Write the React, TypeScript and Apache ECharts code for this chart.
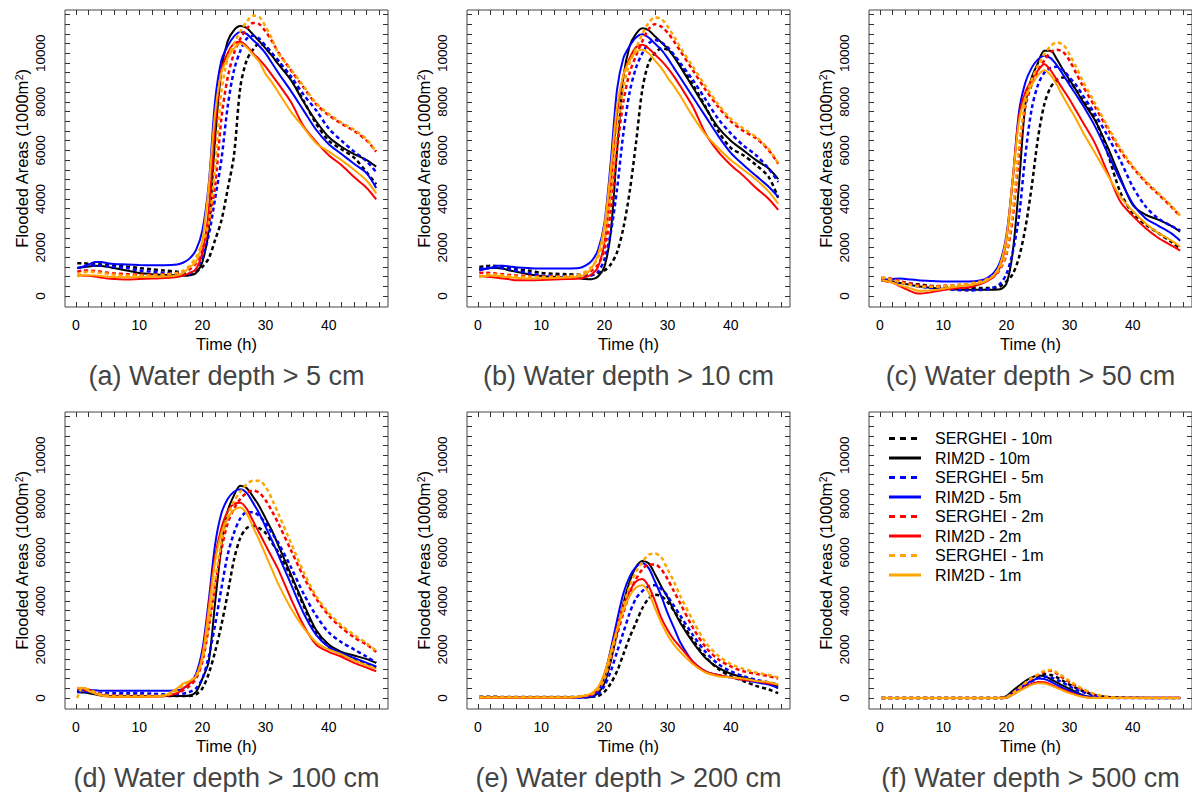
import React, { useEffect, useRef } from "react";
import * as echarts from "echarts";

// ---- time axis (hours) ----
const T = [0.2, 1, 2, 3, 4, 5, 6, 8, 10, 12, 14, 16, 17, 18, 19, 20, 21, 22, 23, 24, 25, 26, 27, 28, 29, 30, 31, 32, 34, 36, 38, 40, 42, 44, 46, 47.5];

const SERIES_NAMES = ["SERGHEI - 10m", "RIM2D - 10m", "SERGHEI - 5m", "RIM2D - 5m", "SERGHEI - 2m", "RIM2D - 2m", "SERGHEI - 1m", "RIM2D - 1m"];
const SERIES_COLORS = ["#000000", "#000000", "#0000FF", "#0000FF", "#FF0000", "#FF0000", "#FFA500", "#FFA500"];
const SERIES_DASHED = [true, false, true, false, true, false, true, false];

const PANEL_TITLES = ["(a) Water depth > 5 cm", "(b) Water depth > 10 cm", "(c) Water depth > 50 cm", "(d) Water depth > 100 cm", "(e) Water depth > 200 cm", "(f) Water depth > 500 cm"];
const X_NAME = "Time (h)";
const Y_NAME = "Flooded Areas (1000m{sup|2})";

const X_TICKS = [0, 2, 4, 6, 8, 10, 12, 14, 16, 18, 20, 22, 24, 26, 28, 30, 32, 34, 36, 38, 40, 42, 44, 46, 48];
const X_LABELS = [0, 10, 20, 30, 40];
const Y_TICKS = [0, 400, 800, 1200, 1600, 2000, 2400, 2800, 3200, 3600, 4000, 4400, 4800, 5200, 5600, 6000, 6400, 6800, 7200, 7600, 8000, 8400, 8800, 9200, 9600, 10000, 10400, 10800, 11200, 11600];
const Y_LABELS = [0, 2000, 4000, 6000, 8000, 10000];

// ---- (a) > 5 cm ----
const a_SERGHEI_10m = [1350, 1350, 1330, 1320, 1300, 1280, 1260, 1220, 1150, 1100, 1050, 1000, 960, 950, 1000, 1200, 1550, 2300, 3100, 4400, 5800, 8600, 9700, 10150, 10400, 10300, 10000, 9700, 8950, 8050, 7100, 6400, 6050, 5700, 5100, 4600];
const a_RIM2D_10m = [1150, 1180, 1220, 1250, 1240, 1200, 1150, 1050, 950, 900, 870, 850, 830, 850, 950, 1400, 2700, 6400, 9300, 10500, 10950, 11120, 11050, 10780, 10500, 10200, 9900, 9550, 8900, 8000, 7200, 6550, 6150, 5850, 5600, 5330];
const a_SERGHEI_5m = [1150, 1200, 1250, 1260, 1250, 1230, 1200, 1150, 1050, 1000, 950, 900, 880, 900, 1100, 1600, 2500, 4000, 5600, 7800, 9300, 10100, 10600, 10720, 10600, 10300, 10000, 9700, 9050, 8300, 7650, 6900, 6400, 5950, 5550, 5100];
const a_RIM2D_5m = [1150, 1200, 1300, 1400, 1400, 1350, 1320, 1300, 1280, 1270, 1270, 1300, 1380, 1550, 1900, 2700, 4600, 8000, 9700, 10300, 10700, 10880, 10800, 10550, 10300, 10000, 9600, 9200, 8450, 7650, 6850, 6250, 5850, 5450, 5050, 4450];
const a_SERGHEI_2m = [1000, 1050, 1050, 1030, 1000, 960, 930, 900, 880, 880, 900, 950, 1000, 1100, 1350, 1900, 3000, 4500, 7300, 9000, 10000, 10600, 11000, 11250, 11200, 10900, 10500, 10050, 9300, 8600, 7900, 7450, 7100, 6800, 6400, 5950];
const a_RIM2D_2m = [850, 840, 830, 800, 760, 720, 700, 680, 700, 720, 740, 780, 850, 950, 1100, 1800, 3500, 7000, 9300, 10000, 10400, 10480, 10300, 10000, 9750, 9450, 9100, 8750, 8000, 7000, 6350, 5800, 5400, 4900, 4450, 3980];
const a_SERGHEI_1m = [850, 950, 1000, 980, 950, 920, 880, 850, 850, 850, 880, 950, 1050, 1250, 1600, 2200, 3000, 5300, 8400, 9800, 10400, 10900, 11300, 11550, 11500, 11100, 10600, 10000, 9350, 8650, 7950, 7500, 7150, 6850, 6450, 5950];
const a_RIM2D_1m = [800, 850, 860, 850, 820, 800, 780, 770, 780, 790, 800, 850, 950, 1200, 1400, 2300, 4500, 7500, 9200, 9800, 10200, 10400, 10250, 9950, 9650, 9150, 8800, 8400, 7600, 6950, 6300, 5950, 5600, 5200, 4750, 4230];

// ---- (b) > 10 cm ----
const b_SERGHEI_10m = [1200, 1220, 1250, 1230, 1200, 1150, 1100, 1050, 950, 920, 900, 880, 870, 870, 950, 1050, 1300, 1800, 2800, 4300, 6300, 8500, 9600, 10000, 10200, 10150, 9900, 9500, 8700, 7800, 6800, 6100, 5800, 5400, 4900, 4050];
const b_RIM2D_10m = [1100, 1120, 1150, 1150, 1120, 1050, 1000, 900, 820, 790, 760, 730, 700, 690, 800, 1200, 2600, 6000, 9000, 10300, 10800, 11030, 10950, 10700, 10450, 10200, 9850, 9450, 8600, 7750, 6950, 6400, 6000, 5600, 5250, 4820];
const b_SERGHEI_5m = [1100, 1150, 1180, 1170, 1150, 1100, 1050, 950, 850, 830, 800, 780, 800, 850, 1000, 1500, 2600, 4400, 6700, 8400, 9400, 10000, 10400, 10550, 10450, 10250, 9950, 9600, 8900, 8100, 7300, 6700, 6200, 5800, 5250, 4700];
const b_RIM2D_5m = [1050, 1100, 1150, 1250, 1250, 1220, 1180, 1150, 1130, 1130, 1130, 1150, 1250, 1450, 1900, 3000, 5500, 8500, 9800, 10300, 10650, 10780, 10650, 10400, 10150, 9800, 9400, 9000, 8200, 7400, 6600, 5900, 5400, 4950, 4500, 4080];
const b_SERGHEI_2m = [950, 960, 950, 920, 900, 870, 850, 820, 800, 800, 800, 850, 900, 1050, 1300, 1900, 3500, 6000, 8000, 9200, 9900, 10500, 11000, 11200, 11100, 10850, 10500, 10100, 9300, 8500, 7800, 7200, 6800, 6500, 6000, 5450];
const b_RIM2D_2m = [820, 800, 780, 750, 720, 690, 650, 650, 660, 680, 700, 720, 780, 900, 1200, 2200, 4500, 7500, 9100, 9800, 10250, 10350, 10200, 9950, 9700, 9400, 9050, 8650, 7800, 6700, 5950, 5400, 4950, 4450, 4000, 3550];
const b_SERGHEI_1m = [800, 850, 900, 880, 850, 820, 800, 780, 780, 790, 800, 880, 1000, 1200, 1600, 2400, 4200, 6800, 8600, 9600, 10200, 10800, 11250, 11480, 11420, 11100, 10700, 10250, 9450, 8650, 7900, 7300, 6900, 6550, 6050, 5470];
const b_RIM2D_1m = [780, 820, 850, 830, 800, 770, 750, 720, 730, 740, 760, 800, 900, 1150, 1700, 2900, 5200, 7800, 9100, 9700, 10050, 10150, 10000, 9700, 9400, 9000, 8650, 8250, 7400, 6650, 6100, 5600, 5200, 4800, 4300, 3800];

// ---- (c) > 50 cm ----
const c_SERGHEI_10m = [700, 690, 650, 600, 550, 510, 480, 420, 380, 350, 330, 330, 330, 330, 400, 600, 900, 1600, 2800, 4500, 6500, 7900, 8600, 8900, 9000, 8850, 8500, 8100, 7300, 5900, 4300, 3400, 2950, 2600, 2250, 1950];
const c_RIM2D_10m = [650, 640, 600, 550, 500, 450, 400, 340, 300, 270, 260, 255, 255, 260, 280, 500, 1800, 4600, 7900, 9000, 9600, 10100, 10100, 9750, 9300, 8900, 8500, 8050, 7250, 6150, 4900, 3750, 3350, 3150, 2900, 2650];
const c_SERGHEI_5m = [650, 640, 600, 550, 500, 450, 400, 330, 300, 250, 230, 250, 280, 350, 500, 900, 1800, 3300, 5800, 7700, 8700, 9200, 9400, 9450, 9300, 9000, 8700, 8300, 7500, 6600, 5600, 4500, 3700, 3200, 2900, 2700];
const c_RIM2D_5m = [650, 680, 700, 720, 700, 680, 650, 620, 600, 600, 600, 650, 750, 950, 1400, 2500, 4800, 7600, 8800, 9400, 9750, 9900, 9800, 9500, 9100, 8700, 8300, 7900, 7000, 5900, 4800, 3800, 3200, 2900, 2600, 2280];
const c_SERGHEI_2m = [750, 740, 700, 620, 550, 500, 450, 400, 420, 450, 500, 600, 700, 800, 1100, 1700, 3200, 5800, 7800, 8700, 9300, 9700, 10050, 10150, 10050, 9700, 9200, 8700, 7800, 6900, 6000, 5300, 4700, 4200, 3700, 3280];
const c_RIM2D_2m = [650, 600, 550, 420, 300, 180, 100, 150, 250, 320, 350, 500, 620, 800, 1200, 2300, 4800, 7400, 8400, 8900, 9300, 9550, 9300, 8900, 8500, 8100, 7650, 7200, 6300, 5100, 3900, 3300, 2800, 2400, 2100, 1870];
const c_SERGHEI_1m = [750, 730, 650, 580, 500, 450, 400, 380, 400, 450, 500, 600, 700, 850, 1150, 1800, 3500, 6200, 8000, 8900, 9500, 9950, 10300, 10450, 10350, 9950, 9450, 8900, 7950, 7000, 6100, 5350, 4750, 4250, 3750, 3300];
const c_RIM2D_1m = [650, 620, 550, 450, 380, 300, 220, 230, 300, 380, 450, 550, 650, 850, 1300, 2400, 4800, 7200, 8200, 8700, 9100, 9300, 9100, 8700, 8200, 7750, 7300, 6800, 5900, 5000, 4100, 3500, 3000, 2600, 2300, 2030];

// ---- (d) > 100 cm ----
const d_SERGHEI_10m = [300, 280, 250, 200, 150, 120, 100, 100, 100, 90, 80, 80, 80, 80, 150, 400, 1000, 1900, 3000, 4300, 5700, 6600, 7000, 7100, 7000, 6800, 6400, 6000, 5000, 3800, 2700, 2100, 1800, 1600, 1400, 1250];
const d_RIM2D_10m = [250, 230, 200, 150, 100, 90, 80, 80, 80, 80, 80, 80, 80, 100, 250, 800, 1500, 3900, 6200, 7700, 8350, 8750, 8650, 8300, 7900, 7400, 6900, 6300, 5100, 3900, 2800, 2200, 1900, 1750, 1600, 1450];
const d_SERGHEI_5m = [250, 250, 250, 220, 200, 200, 200, 200, 200, 180, 150, 150, 180, 250, 400, 800, 1700, 3000, 4500, 5900, 6800, 7400, 7650, 7650, 7500, 7200, 6800, 6400, 5400, 4300, 3400, 2700, 2300, 2000, 1700, 1450];
const d_RIM2D_5m = [300, 320, 330, 320, 300, 300, 300, 300, 300, 300, 300, 320, 400, 600, 1000, 2000, 4000, 6300, 7600, 8200, 8500, 8600, 8450, 8050, 7600, 7050, 6500, 5900, 4700, 3500, 2600, 2100, 1850, 1650, 1450, 1300];
const d_SERGHEI_2m = [400, 350, 300, 220, 150, 120, 100, 80, 80, 80, 100, 200, 320, 500, 800, 1500, 2900, 4600, 6100, 7200, 7800, 8200, 8450, 8550, 8450, 8150, 7700, 7200, 6100, 5000, 4100, 3400, 2900, 2500, 2200, 1900];
const d_RIM2D_2m = [350, 400, 350, 200, 100, 70, 50, 50, 50, 60, 80, 200, 400, 600, 900, 1800, 3800, 5800, 7000, 7700, 8000, 8050, 7800, 7300, 6800, 6300, 5800, 5300, 4100, 3000, 2200, 1900, 1700, 1450, 1250, 1100];
const d_SERGHEI_1m = [0, 400, 350, 250, 150, 100, 80, 80, 80, 80, 100, 300, 550, 700, 900, 1600, 3000, 4800, 6400, 7500, 8100, 8500, 8800, 8950, 8950, 8700, 8200, 7600, 6400, 5200, 4200, 3500, 3000, 2600, 2250, 1950];
const d_RIM2D_1m = [400, 420, 300, 180, 100, 60, 50, 50, 50, 60, 100, 400, 600, 700, 900, 1700, 3600, 5600, 6800, 7400, 7750, 7850, 7600, 7050, 6500, 5900, 5300, 4700, 3700, 2900, 2300, 2000, 1800, 1550, 1350, 1200];

// ---- (e) > 200 cm ----
const e_SERGHEI_10m = [50, 50, 50, 50, 40, 40, 40, 40, 40, 40, 40, 40, 40, 50, 80, 250, 600, 1100, 1800, 2500, 3100, 3700, 4100, 4250, 4200, 3950, 3600, 3200, 2400, 1700, 1200, 900, 700, 500, 350, 200];
const e_RIM2D_10m = [30, 30, 30, 30, 30, 30, 30, 30, 30, 30, 30, 30, 30, 50, 200, 600, 1500, 2700, 3900, 4800, 5400, 5650, 5550, 5100, 4600, 4150, 3600, 3100, 2300, 1650, 1250, 1000, 850, 700, 600, 480];
const e_SERGHEI_5m = [20, 20, 20, 20, 20, 20, 20, 20, 20, 20, 20, 20, 30, 60, 150, 500, 1100, 1900, 2700, 3500, 4100, 4400, 4600, 4650, 4500, 4200, 3800, 3400, 2600, 1900, 1400, 1100, 900, 750, 650, 550];
const e_RIM2D_5m = [20, 20, 20, 20, 20, 20, 20, 20, 20, 20, 20, 20, 30, 100, 300, 900, 2000, 3200, 4300, 5000, 5400, 5550, 5350, 4800, 4200, 3500, 2900, 2300, 1500, 1100, 950, 850, 750, 650, 550, 400];
const e_SERGHEI_2m = [30, 30, 30, 30, 30, 30, 30, 30, 30, 30, 30, 60, 100, 150, 350, 800, 1600, 2600, 3500, 4300, 4900, 5300, 5500, 5500, 5300, 4900, 4400, 3900, 2900, 2100, 1600, 1300, 1100, 1000, 900, 800];
const e_RIM2D_2m = [20, 20, 20, 20, 20, 20, 20, 20, 20, 20, 20, 40, 80, 150, 400, 1000, 1900, 2900, 3800, 4400, 4800, 4900, 4600, 4000, 3300, 2800, 2400, 2100, 1500, 1100, 950, 850, 750, 700, 600, 550];
const e_SERGHEI_1m = [30, 30, 30, 30, 30, 30, 30, 30, 30, 30, 30, 60, 100, 150, 350, 800, 1700, 2800, 3800, 4600, 5200, 5600, 5900, 5950, 5800, 5300, 4800, 4200, 3200, 2300, 1750, 1400, 1200, 1050, 950, 850];
const e_RIM2D_1m = [20, 20, 20, 20, 20, 20, 20, 20, 20, 20, 20, 60, 100, 200, 450, 1000, 1900, 2800, 3600, 4200, 4550, 4650, 4350, 3700, 3100, 2600, 2200, 1900, 1400, 1050, 900, 850, 800, 700, 650, 550];

// ---- (f) > 500 cm ----
const f_SERGHEI_10m = [0, 0, 0, 0, 0, 0, 0, 0, 0, 0, 0, 0, 0, 0, 0, 20, 150, 350, 550, 750, 900, 980, 950, 850, 700, 550, 420, 300, 120, 40, 20, 10, 5, 5, 5, 5];
const f_RIM2D_10m = [0, 0, 0, 0, 0, 0, 0, 0, 0, 0, 0, 0, 0, 0, 10, 80, 300, 500, 700, 850, 930, 900, 780, 640, 500, 370, 250, 130, 10, 0, 0, 0, 0, 0, 0, 0];
const f_SERGHEI_5m = [0, 0, 0, 0, 0, 0, 0, 0, 0, 0, 0, 0, 0, 0, 0, 20, 150, 330, 500, 680, 820, 880, 850, 750, 620, 480, 350, 250, 90, 15, 0, 0, 0, 0, 0, 0];
const f_RIM2D_5m = [0, 0, 0, 0, 0, 0, 0, 0, 0, 0, 0, 0, 0, 0, 0, 30, 200, 380, 550, 700, 800, 780, 680, 540, 410, 300, 200, 100, 10, 0, 0, 0, 0, 0, 0, 0];
const f_SERGHEI_2m = [0, 0, 0, 0, 0, 0, 0, 0, 0, 0, 0, 0, 0, 0, 0, 30, 180, 380, 600, 800, 950, 1080, 1120, 1000, 820, 650, 500, 360, 140, 40, 15, 10, 10, 10, 10, 10];
const f_RIM2D_2m = [0, 0, 0, 0, 0, 0, 0, 0, 0, 0, 0, 0, 0, 0, 0, 20, 150, 300, 450, 580, 660, 650, 560, 440, 330, 230, 140, 60, 0, 0, 0, 0, 0, 0, 0, 0];
const f_SERGHEI_1m = [0, 0, 0, 0, 0, 0, 0, 0, 0, 0, 0, 0, 0, 0, 0, 30, 200, 400, 620, 820, 980, 1120, 1150, 1050, 880, 700, 540, 390, 160, 50, 10, 5, 5, 5, 5, 5];
const f_RIM2D_1m = [0, 0, 0, 0, 0, 0, 0, 0, 0, 0, 0, 0, 0, 0, 0, 20, 130, 280, 420, 540, 610, 600, 520, 410, 300, 200, 120, 50, 0, 0, 0, 0, 0, 0, 0, 0];

const PANELS = [
  [a_SERGHEI_10m, a_RIM2D_10m, a_SERGHEI_5m, a_RIM2D_5m, a_SERGHEI_2m, a_RIM2D_2m, a_SERGHEI_1m, a_RIM2D_1m],
  [b_SERGHEI_10m, b_RIM2D_10m, b_SERGHEI_5m, b_RIM2D_5m, b_SERGHEI_2m, b_RIM2D_2m, b_SERGHEI_1m, b_RIM2D_1m],
  [c_SERGHEI_10m, c_RIM2D_10m, c_SERGHEI_5m, c_RIM2D_5m, c_SERGHEI_2m, c_RIM2D_2m, c_SERGHEI_1m, c_RIM2D_1m],
  [d_SERGHEI_10m, d_RIM2D_10m, d_SERGHEI_5m, d_RIM2D_5m, d_SERGHEI_2m, d_RIM2D_2m, d_SERGHEI_1m, d_RIM2D_1m],
  [e_SERGHEI_10m, e_RIM2D_10m, e_SERGHEI_5m, e_RIM2D_5m, e_SERGHEI_2m, e_RIM2D_2m, e_SERGHEI_1m, e_RIM2D_1m],
  [f_SERGHEI_10m, f_RIM2D_10m, f_SERGHEI_5m, f_RIM2D_5m, f_SERGHEI_2m, f_RIM2D_2m, f_SERGHEI_1m, f_RIM2D_1m],
];

const FONT = "Arial, Liberation Sans, sans-serif";

export default function App() {
  const ref = useRef<HTMLDivElement>(null);

  useEffect(() => {
    if (!ref.current) return;
    const chart = echarts.init(ref.current, undefined, { renderer: "svg" });

    const colLeft = [65, 467, 869];
    const rowTop = [10, 412];
    const W = 323;
    const H = 297;
    const X_MIN = -1.74, X_MAX = 49.37;
    const Y_MIN = -453, Y_MAX = 11784;

    const grids: any[] = [];
    const xAxes: any[] = [];
    const yAxes: any[] = [];
    const series: any[] = [];
    const graphics: any[] = [];

    const tickStyle = { show: true, inside: true, length: 5, lineStyle: { color: "#333", width: 1 } };

    PANELS.forEach((panel, p) => {
      const col = p % 3;
      const row = Math.floor(p / 3);
      const gl = colLeft[col];
      const gt = rowTop[row];
      grids.push({
        left: gl, top: gt, width: W, height: H,
        show: true, borderColor: "#444", borderWidth: 1, backgroundColor: "transparent",
      });
      xAxes.push({
        type: "value", gridIndex: p, position: "bottom", min: X_MIN, max: X_MAX,
        axisLine: { show: false, onZero: false }, splitLine: { show: false },
        axisTick: { ...tickStyle, customValues: X_TICKS },
        axisLabel: {
          customValues: X_LABELS, formatter: (v: number) => String(v),
          fontSize: 14, color: "#000", margin: 11, fontFamily: FONT,
        },
      });
      xAxes.push({
        type: "value", gridIndex: p, position: "top", min: X_MIN, max: X_MAX,
        axisLine: { show: false, onZero: false }, splitLine: { show: false },
        axisTick: { ...tickStyle, customValues: X_TICKS },
        axisLabel: { show: false },
      });
      yAxes.push({
        type: "value", gridIndex: p, position: "left", min: Y_MIN, max: Y_MAX,
        axisLine: { show: false, onZero: false }, splitLine: { show: false },
        axisTick: { ...tickStyle, customValues: Y_TICKS },
        axisLabel: {
          customValues: Y_LABELS, formatter: (v: number) => String(v),
          rotate: 90, fontSize: 13.5, color: "#000", margin: 18, fontFamily: FONT,
        },
      });
      yAxes.push({
        type: "value", gridIndex: p, position: "right", min: Y_MIN, max: Y_MAX,
        axisLine: { show: false, onZero: false }, splitLine: { show: false },
        axisTick: { ...tickStyle, customValues: Y_TICKS },
        axisLabel: { show: false },
      });

      panel.forEach((vals, s) => {
        series.push({
          type: "line",
          name: SERIES_NAMES[s],
          xAxisIndex: 2 * p,
          yAxisIndex: 2 * p,
          data: T.map((t, i) => [t, vals[i]]),
          symbol: "none",
          showSymbol: false,
          smooth: 0.3,
          silent: true,
          itemStyle: { color: SERIES_COLORS[s] },
          lineStyle: {
            color: SERIES_COLORS[s],
            width: SERIES_DASHED[s] ? 2.5 : 2,
            type: SERIES_DASHED[s] ? [4, 3] : "solid",
          },
        });
      });

      // panel title
      graphics.push({
        type: "text", x: gl + W / 2, y: gt + 366, silent: true,
        style: { text: PANEL_TITLES[p], fontSize: 27, fill: "#444", align: "center", verticalAlign: "middle", fontFamily: FONT },
      });
      // x-axis name
      graphics.push({
        type: "text", x: gl + W / 2, y: gt + 334, silent: true,
        style: { text: X_NAME, fontSize: 16.5, fill: "#000", align: "center", verticalAlign: "middle", fontFamily: FONT },
      });
      // y-axis name (rotated, with superscript)
      graphics.push({
        type: "text", x: gl - 43, y: gt + H / 2, rotation: Math.PI / 2, silent: true,
        style: {
          text: Y_NAME, fontSize: 16.5, fill: "#000", align: "center", verticalAlign: "middle", fontFamily: FONT,
          rich: { sup: { fontSize: 10.5, lineHeight: 10, verticalAlign: "top", fill: "#000", fontFamily: FONT } },
        },
      });
    });

    // legend drawn in panel (f)
    const LEG_X = 889, LEG_Y = 438.5, LEG_STEP = 19.5;
    SERIES_NAMES.forEach((name, i) => {
      const y = LEG_Y + i * LEG_STEP;
      graphics.push({
        type: "line", silent: true,
        shape: { x1: LEG_X, y1: y, x2: LEG_X + 32, y2: y },
        style: { stroke: SERIES_COLORS[i], lineWidth: 3, lineDash: SERIES_DASHED[i] ? [6, 5] : null },
      });
      graphics.push({
        type: "text", x: LEG_X + 46, y, silent: true,
        style: { text: name, fontSize: 16, fill: "#000", align: "left", verticalAlign: "middle", fontFamily: FONT },
      });
    });

    chart.setOption({
      animation: false,
      backgroundColor: "#fff",
      grid: grids,
      xAxis: xAxes,
      yAxis: yAxes,
      series,
      graphic: graphics,
    });

    return () => chart.dispose();
  }, []);

  return <div ref={ref} style={{ position: "absolute", left: 0, top: 0, width: 1192, height: 792 }} />;
}
